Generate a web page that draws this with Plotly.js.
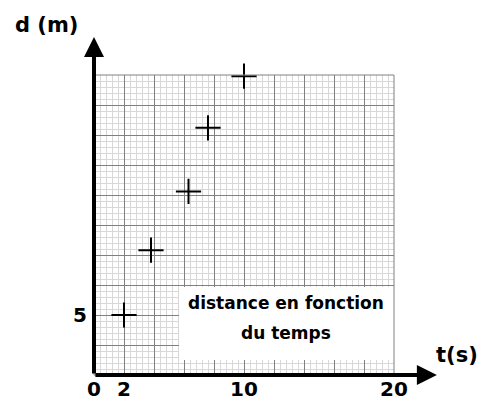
<!DOCTYPE html>
<html>
<head>
<meta charset="utf-8">
<script src="https://cdn.plot.ly/plotly-3.0.1.min.js"></script>
<style>html,body{margin:0;padding:0;background:#fff;}#chart{width:481px;height:403px;}</style>
</head>
<body>
<div id="chart"></div>
<script>
// Data
const times = [2, 3.8, 6.3, 7.6, 10];
const distances = [5, 10.4, 15.3, 20.6, 24.9];

const xTickVals = [0, 2, 4, 6, 8, 10, 12, 14, 16, 18, 20];
const xTickText = ['0', '2', '', '', '', '10', '', '', '', '', '20'];
const yTickVals = [0, 2.5, 5, 7.5, 10, 12.5, 15, 17.5, 20, 22.5, 25];
const yTickText = ['', '', '5', '', '', '', '', '', '', '', ''];

const FONT = 'DejaVu Sans, Arial, sans-serif';

const trace = {
  x: times, y: distances, type: 'scatter', mode: 'markers',
  marker: {symbol: 'cross-thin', size: 18, color: '#000', line: {color: '#000', width: 2}},
  cliponaxis: false, hoverinfo: 'skip'
};

const layout = {
  width: 481, height: 403,
  margin: {l: 94, r: 87, t: 75, b: 28, pad: 0},
  paper_bgcolor: '#fff', plot_bgcolor: '#fff',
  showlegend: false,
  font: {family: FONT, color: '#000'},
  xaxis: {
    range: [0, 20], fixedrange: true,
    tickvals: xTickVals, ticktext: xTickText,
    tickfont: {family: FONT, size: 20, weight: 'bold', color: '#000'},
    ticks: '', showgrid: true, gridcolor: '#808080', gridwidth: 1,
    zeroline: false, showline: false, ticklabelstandoff: 0,
    minor: {dtick: 0.4, showgrid: true, gridcolor: '#d8d8d8', gridwidth: 1, ticks: ''}
  },
  yaxis: {
    range: [0, 25], fixedrange: true,
    tickvals: yTickVals, ticktext: yTickText,
    tickfont: {family: FONT, size: 20, weight: 'bold', color: '#000'},
    ticks: '', showgrid: true, gridcolor: '#808080', gridwidth: 1,
    zeroline: false, showline: false, ticklabelstandoff: 6,
    minor: {dtick: 0.5, showgrid: true, gridcolor: '#d8d8d8', gridwidth: 1, ticks: ''}
  },
  shapes: [
    {type: 'rect', xref: 'x', yref: 'y', x0: 5.67, x1: 20, y0: 1.25, y1: 7.33,
     fillcolor: '#fff', line: {width: 0}, layer: 'above'},
    {type: 'rect', xref: 'paper', yref: 'paper', x0: 0, x1: 1, y0: 0, y1: 1,
     fillcolor: 'rgba(0,0,0,0)', line: {color: '#808080', width: 1}, layer: 'above'}
  ],
  annotations: [
    {xref: 'paper', yref: 'paper', x: 0, y: 1.127, ax: 0, ay: 338, axref: 'pixel', ayref: 'pixel',
     showarrow: true, arrowhead: 2, arrowsize: 1, arrowwidth: 4, arrowcolor: '#000', text: '', standoff: 0, startstandoff: 0},
    {xref: 'paper', yref: 'paper', x: 1.143, y: 0, ax: -343, ay: 0, axref: 'pixel', ayref: 'pixel',
     showarrow: true, arrowhead: 2, arrowsize: 1, arrowwidth: 4, arrowcolor: '#000', text: '', standoff: 0, startstandoff: 0},
    {xref: 'paper', yref: 'paper', x: -0.16, y: 1.167, text: '<b>d (m)</b>', showarrow: false,
     font: {family: FONT, size: 21, color: '#000'}, xanchor: 'center', yanchor: 'middle'},
    {xref: 'paper', yref: 'paper', x: 1.21, y: 0.067, text: '<b>t(s)</b>', showarrow: false,
     font: {family: FONT, size: 21, color: '#000'}, xanchor: 'center', yanchor: 'middle'},
    {xref: 'x', yref: 'y', x: 12.83, y: 6.0, text: '<b>distance en fonction</b>', showarrow: false,
     font: {family: FONT, size: 17, color: '#000'}, xanchor: 'center', yanchor: 'middle'},
    {xref: 'x', yref: 'y', x: 12.83, y: 3.5, text: '<b>du temps</b>', showarrow: false,
     font: {family: FONT, size: 17, color: '#000'}, xanchor: 'center', yanchor: 'middle'}
  ]
};

Plotly.newPlot('chart', [trace], layout, {displayModeBar: false, staticPlot: true});
</script>
</body>
</html>
